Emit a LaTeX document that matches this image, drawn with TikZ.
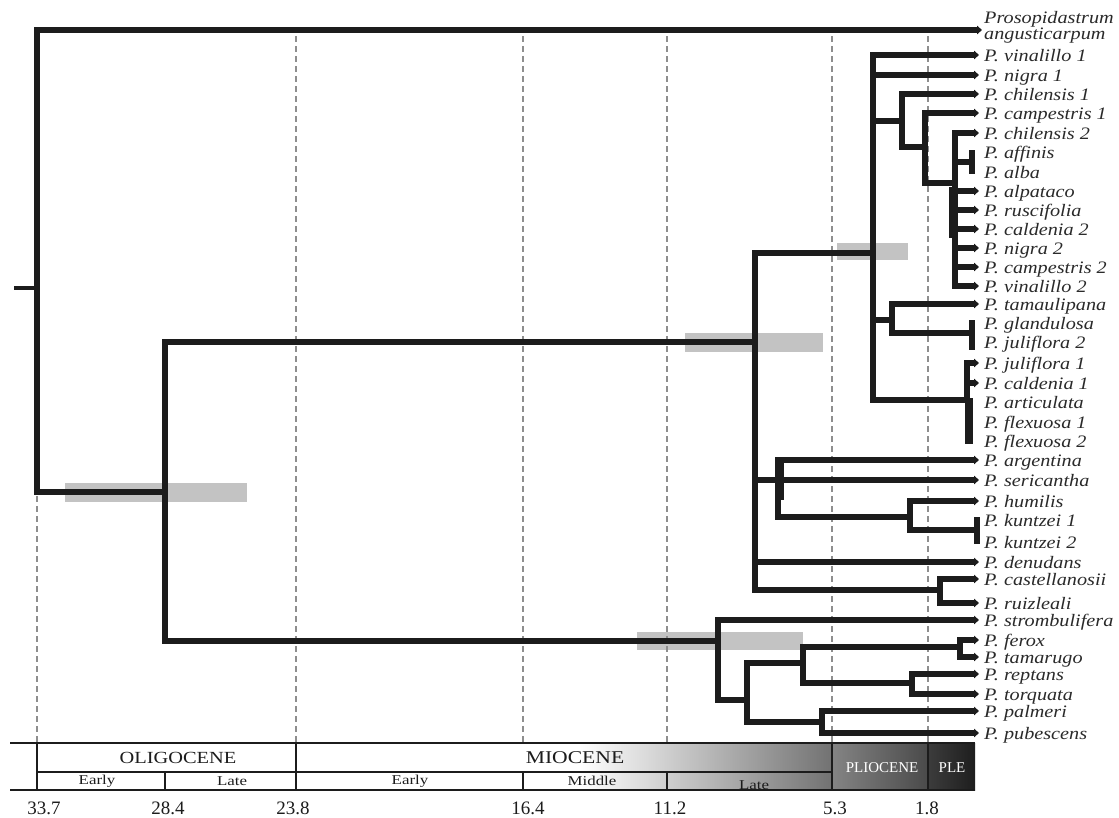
\documentclass[tikz,border=0pt]{standalone}
\usepackage{fontspec}
\setmainfont{Liberation Serif}
\usepackage{graphicx}
\usetikzlibrary{arrows.meta}
\definecolor{ink}{HTML}{1C1C1C}
\definecolor{labink}{HTML}{2A2A2A}
\definecolor{hpdgray}{HTML}{C3C3C3}
\definecolor{dashgray}{HTML}{8E8E8E}
\definecolor{miogray}{HTML}{727272}
\definecolor{plioA}{HTML}{848484}
\definecolor{plioB}{HTML}{4A4A4A}
\definecolor{pleA}{HTML}{3C3C3C}
\definecolor{pleB}{HTML}{1E1E1E}
\newcommand\wide[1]{\scalebox{1.155}[1]{#1}}
\newcommand\taxon[3]{\coordinate (#1) at (979,#2); \node[taxlab] (L#1) at (984,{#2+6.5}) {\wide{#3}};}
\newcommand\barlabel[3]{\node[taxlab] (L#1) at (984,{#2+6.5}) {\wide{#3}};}
\begin{document}
\begin{tikzpicture}[x=1pt,y=-1pt,
  branch/.style={draw=ink, line width=5.5pt, line join=miter},
  tipbranch/.style={branch, -{Triangle[length=5pt,width=8.5pt]}},
  tipbar/.style={draw=ink, line width=6pt},
  hpd/.style={fill=hpdgray, draw=none},
  refline/.style={draw=dashgray, line width=1.4pt, dash pattern=on 6pt off 4pt},
  taxlab/.style={anchor=base west, inner sep=0pt, text=labink, font=\fontsize{17.5}{15}\selectfont\itshape},
  epoch/.style={inner sep=0pt, text=ink, font=\fontsize{17}{17}\selectfont},
  subep/.style={inner sep=0pt, text=ink, font=\fontsize{13.5}{13.5}\selectfont},
  pliolab/.style={inner sep=0pt, text=white, font=\fontsize{15}{15}\selectfont},
  agelab/.style={inner sep=0pt, text=ink, font=\fontsize{19}{19}\selectfont},
  tlline/.style={draw=ink, line width=1.6pt}
]
\useasboundingbox (0,0) rectangle (1119,817);
\fill[white] (0,0) rectangle (1119,817);

% ---------- HPD bars ----------
\fill[hpd] (65,483) rectangle (247,502);
\fill[hpd] (685,333) rectangle (823,352);
\fill[hpd] (837,243) rectangle (908,260);
\fill[hpd] (637,632) rectangle (803,650);

% ---------- time reference lines ----------
\foreach \x/\n in {37/a,296/b,523/c,667/d,832/e,928/f}{
  \coordinate (dt\n) at (\x,36); \coordinate (db\n) at (\x,743);
  \draw[refline] (dt\n) -- (db\n);
}

% ---------- tips ----------
\coordinate (prosop) at (982,30);
\node[taxlab, anchor=west, align=left] (Lprosop) at (984,27) {\wide{Prosopidastrum}\\\wide{angusticarpum}};
\taxon{vin1}{55}{P. vinalillo 1}
\taxon{nig1}{75}{P. nigra 1}
\taxon{chi1}{94}{P. chilensis 1}
\taxon{cam1}{113}{P. campestris 1}
\taxon{chi2}{133}{P. chilensis 2}
\barlabel{aff}{152}{P. affinis}
\barlabel{alb}{172}{P. alba}
\taxon{alp}{191}{P. alpataco}
\taxon{rus}{210}{P. ruscifolia}
\taxon{cal2}{229}{P. caldenia 2}
\taxon{nig2}{248}{P. nigra 2}
\taxon{cam2}{267}{P. campestris 2}
\taxon{vin2}{286}{P. vinalillo 2}
\taxon{tam}{304}{P. tamaulipana}
\barlabel{gla}{323}{P. glandulosa}
\barlabel{jul2}{342}{P. juliflora 2}
\taxon{jul1}{363}{P. juliflora 1}
\taxon{cal1}{383}{P. caldenia 1}
\barlabel{art}{402}{P. articulata}
\barlabel{flx1}{422}{P. flexuosa 1}
\barlabel{flx2}{441}{P. flexuosa 2}
\taxon{arg}{460}{P. argentina}
\taxon{ser}{480}{P. sericantha}
\taxon{hum}{501}{P. humilis}
\barlabel{kun1}{520}{P. kuntzei 1}
\barlabel{kun2}{542}{P. kuntzei 2}
\taxon{den}{562}{P. denudans}
\taxon{cas}{579}{P. castellanosii}
\taxon{rui}{603}{P. ruizleali}
\taxon{str}{620}{P. strombulifera}
\taxon{fer}{640}{P. ferox}
\taxon{tmr}{657}{P. tamarugo}
\taxon{rep}{674}{P. reptans}
\taxon{tor}{694}{P. torquata}
\taxon{pal}{711}{P. palmeri}
\taxon{pub}{733}{P. pubescens}

% ---------- internal nodes ----------
\coordinate (root0) at (14,288);
\coordinate (R) at (37,288);
\coordinate (P) at (165,492);
\coordinate (A) at (755,342);
\coordinate (B) at (873,253);
\coordinate (B2) at (902,121);
\coordinate (B21) at (925,147);
\coordinate (B22) at (955,183);
\coordinate (B23) at (972,162);
\coordinate (B3) at (892,320);
\coordinate (B31) at (972,333);
\coordinate (B4) at (967,400);
\coordinate (C1) at (778,480);
\coordinate (C2) at (910,517);
\coordinate (K) at (977,530);
\coordinate (D) at (940,590);
\coordinate (S) at (718,641);
\coordinate (S2) at (747,700);
\coordinate (S3) at (803,663);
\coordinate (F) at (960,647);
\coordinate (RT) at (912,683);
\coordinate (S4) at (822,722);
% bar ends
\coordinate (affT) at (972,150); \coordinate (albB) at (972,174);
\coordinate (glaT) at (972,320); \coordinate (julB) at (972,350);
\coordinate (artT) at (969,398); \coordinate (flxB) at (969,444);
\coordinate (kunT) at (977,517); \coordinate (kunB) at (977,544);

% ---------- branches ----------
\draw[branch, line width=4pt] (root0) -- (R);
\draw[tipbranch] (R) |- (prosop);
\draw[branch] (R) |- (P);
\draw[branch] (P) |- (A);
\draw[branch] (P) |- (S);
% clade A
\draw[branch] (A) |- (B);
\draw[branch] (A) |- (C1);
\draw[tipbranch] (A) |- (den);
\draw[branch] (A) |- (D);
% clade B
\draw[tipbranch] (B) |- (vin1);
\draw[tipbranch] (B) |- (nig1);
\draw[branch] (B) |- (B2);
\draw[branch] (B) |- (B3);
\draw[branch] (B) |- (B4);
\draw[tipbranch] (B2) |- (chi1);
\draw[branch] (B2) |- (B21);
\draw[tipbranch] (B21) |- (cam1);
\draw[branch] (B21) |- (B22);
\foreach \t in {chi2,alp,rus,cal2,nig2,cam2,vin2}{\draw[tipbranch] (B22) |- (\t);}
\draw[branch] (B22) |- (B23);
\fill[ink] (949,187) rectangle (955,238);
\draw[tipbar] (affT) -- (albB);
\draw[tipbranch] (B3) |- (tam);
\draw[branch] (B3) |- (B31);
\draw[tipbar] (glaT) -- (julB);
\draw[tipbranch] (B4) |- (jul1);
\draw[tipbranch] (B4) |- (cal1);
\draw[tipbar, line width=7.5pt] (artT) -- (flxB);
% clade C
\draw[tipbranch] (C1) |- (arg);
\draw[tipbranch] (C1) -- (ser);
\draw[branch] (C1) |- (C2);
\fill[ink] (778,457) rectangle (783.5,500);
\draw[tipbranch] (C2) |- (hum);
\draw[branch] (C2) |- (K);
\draw[tipbar] (kunT) -- (kunB);
\draw[tipbranch] (D) |- (cas);
\draw[tipbranch] (D) |- (rui);
% clade S
\draw[tipbranch] (S) |- (str);
\draw[branch] (S) |- (S2);
\draw[branch] (S2) |- (S3);
\draw[branch] (S2) |- (S4);
\draw[branch] (S3) |- (F);
\draw[branch] (S3) |- (RT);
\draw[tipbranch] (F) |- (fer);
\draw[tipbranch] (F) |- (tmr);
\draw[tipbranch] (RT) |- (rep);
\draw[tipbranch] (RT) |- (tor);
\draw[tipbranch] (S4) |- (pal);
\draw[tipbranch] (S4) |- (pub);

% ---------- geological time scale ----------
\fill[white] (37,743) rectangle (580,790);
\shade[left color=white, right color=miogray] (580,743) rectangle (832,790);
\shade[left color=plioA, right color=plioB] (832,743) rectangle (928,790);
\shade[left color=pleA, right color=pleB] (928,743) rectangle (975,790);
\draw[tlline] (10,743) -- (975,743);
\draw[tlline] (10,790) -- (975,790);
\draw[tlline] (37,772) -- (832,772);
\foreach \x in {37,296,832,928}{\draw[tlline] (\x,743) -- (\x,790);}
\foreach \x in {165,523,667}{\draw[tlline] (\x,772) -- (\x,790);}

\node[epoch] (oli) at (178,758) {\scalebox{1.2}[1]{OLIGOCENE}};
\node[epoch, font=\fontsize{18}{18}\selectfont] (mio) at (575,758) {\scalebox{1.2}[1]{MIOCENE}};
\node[pliolab] (plio) at (882,768) {PLIOCENE};
\node[pliolab] (ple) at (952,768) {PLE};
\node[subep] (oliE) at (97,781) {\scalebox{1.25}[1]{Early}};
\node[subep] (oliL) at (232,781) {\scalebox{1.25}[1]{Late}};
\node[subep] (mioE) at (410,781) {\scalebox{1.25}[1]{Early}};
\node[subep] (mioM) at (592,781) {\scalebox{1.25}[1]{Middle}};
\node[subep] (mioL) at (754,785) {\scalebox{1.25}[1]{Late}};

\node[agelab] (a1) at (44,808) {33.7};
\node[agelab] (a2) at (168,808) {28.4};
\node[agelab] (a3) at (293,808) {23.8};
\node[agelab] (a4) at (528,808) {16.4};
\node[agelab] (a5) at (670,808) {11.2};
\node[agelab] (a6) at (835,808) {5.3};
\node[agelab] (a7) at (927,808) {1.8};
\end{tikzpicture}
\end{document}
